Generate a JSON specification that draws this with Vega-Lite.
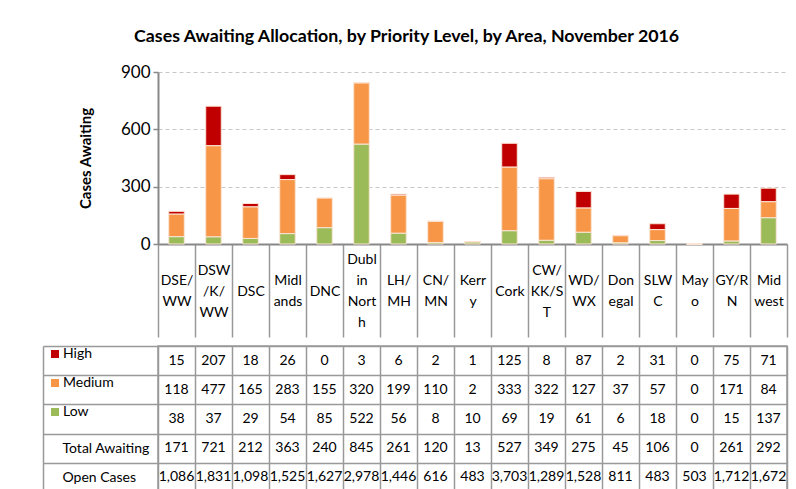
{
  "$schema": "https://vega.github.io/schema/vega-lite/v6.json",
  "padding": {"left": 41, "top": 28, "right": 5, "bottom": 2},
  "autosize": {"type": "pad"},
  "background": "white",
  "title": {"text": "Cases Awaiting Allocation, by Priority Level, by Area, November 2016", "font": "Lato", "fontSize": 17.8, "fontWeight": "bold", "anchor": "middle", "color": "#000", "offset": 17, "dx": -8},
  "config": {"view": {"stroke": null}, "font": "Lato", "axis": {"labelColor": "#000", "titleColor": "#000", "labelFont": "Lato", "titleFont": "Lato"}},
  "datasets": {
    "cells": [
      {"area": "DSE/WW", "row": "High", "value": 15}, {"area": "DSE/WW", "row": "Medium", "value": 118}, {"area": "DSE/WW", "row": "Low", "value": 38}, {"area": "DSE/WW", "row": "Total Awaiting", "value": 171}, {"area": "DSE/WW", "row": "Open Cases", "value": 1086},
      {"area": "DSW/K/WW", "row": "High", "value": 207}, {"area": "DSW/K/WW", "row": "Medium", "value": 477}, {"area": "DSW/K/WW", "row": "Low", "value": 37}, {"area": "DSW/K/WW", "row": "Total Awaiting", "value": 721}, {"area": "DSW/K/WW", "row": "Open Cases", "value": 1831},
      {"area": "DSC", "row": "High", "value": 18}, {"area": "DSC", "row": "Medium", "value": 165}, {"area": "DSC", "row": "Low", "value": 29}, {"area": "DSC", "row": "Total Awaiting", "value": 212}, {"area": "DSC", "row": "Open Cases", "value": 1098},
      {"area": "Midlands", "row": "High", "value": 26}, {"area": "Midlands", "row": "Medium", "value": 283}, {"area": "Midlands", "row": "Low", "value": 54}, {"area": "Midlands", "row": "Total Awaiting", "value": 363}, {"area": "Midlands", "row": "Open Cases", "value": 1525},
      {"area": "DNC", "row": "High", "value": 0}, {"area": "DNC", "row": "Medium", "value": 155}, {"area": "DNC", "row": "Low", "value": 85}, {"area": "DNC", "row": "Total Awaiting", "value": 240}, {"area": "DNC", "row": "Open Cases", "value": 1627},
      {"area": "Dublin North", "row": "High", "value": 3}, {"area": "Dublin North", "row": "Medium", "value": 320}, {"area": "Dublin North", "row": "Low", "value": 522}, {"area": "Dublin North", "row": "Total Awaiting", "value": 845}, {"area": "Dublin North", "row": "Open Cases", "value": 2978},
      {"area": "LH/MH", "row": "High", "value": 6}, {"area": "LH/MH", "row": "Medium", "value": 199}, {"area": "LH/MH", "row": "Low", "value": 56}, {"area": "LH/MH", "row": "Total Awaiting", "value": 261}, {"area": "LH/MH", "row": "Open Cases", "value": 1446},
      {"area": "CN/MN", "row": "High", "value": 2}, {"area": "CN/MN", "row": "Medium", "value": 110}, {"area": "CN/MN", "row": "Low", "value": 8}, {"area": "CN/MN", "row": "Total Awaiting", "value": 120}, {"area": "CN/MN", "row": "Open Cases", "value": 616},
      {"area": "Kerry", "row": "High", "value": 1}, {"area": "Kerry", "row": "Medium", "value": 2}, {"area": "Kerry", "row": "Low", "value": 10}, {"area": "Kerry", "row": "Total Awaiting", "value": 13}, {"area": "Kerry", "row": "Open Cases", "value": 483},
      {"area": "Cork", "row": "High", "value": 125}, {"area": "Cork", "row": "Medium", "value": 333}, {"area": "Cork", "row": "Low", "value": 69}, {"area": "Cork", "row": "Total Awaiting", "value": 527}, {"area": "Cork", "row": "Open Cases", "value": 3703},
      {"area": "CW/KK/ST", "row": "High", "value": 8}, {"area": "CW/KK/ST", "row": "Medium", "value": 322}, {"area": "CW/KK/ST", "row": "Low", "value": 19}, {"area": "CW/KK/ST", "row": "Total Awaiting", "value": 349}, {"area": "CW/KK/ST", "row": "Open Cases", "value": 1289},
      {"area": "WD/WX", "row": "High", "value": 87}, {"area": "WD/WX", "row": "Medium", "value": 127}, {"area": "WD/WX", "row": "Low", "value": 61}, {"area": "WD/WX", "row": "Total Awaiting", "value": 275}, {"area": "WD/WX", "row": "Open Cases", "value": 1528},
      {"area": "Donegal", "row": "High", "value": 2}, {"area": "Donegal", "row": "Medium", "value": 37}, {"area": "Donegal", "row": "Low", "value": 6}, {"area": "Donegal", "row": "Total Awaiting", "value": 45}, {"area": "Donegal", "row": "Open Cases", "value": 811},
      {"area": "SLWC", "row": "High", "value": 31}, {"area": "SLWC", "row": "Medium", "value": 57}, {"area": "SLWC", "row": "Low", "value": 18}, {"area": "SLWC", "row": "Total Awaiting", "value": 106}, {"area": "SLWC", "row": "Open Cases", "value": 483},
      {"area": "Mayo", "row": "High", "value": 0}, {"area": "Mayo", "row": "Medium", "value": 0}, {"area": "Mayo", "row": "Low", "value": 0}, {"area": "Mayo", "row": "Total Awaiting", "value": 0}, {"area": "Mayo", "row": "Open Cases", "value": 503},
      {"area": "GY/RN", "row": "High", "value": 75}, {"area": "GY/RN", "row": "Medium", "value": 171}, {"area": "GY/RN", "row": "Low", "value": 15}, {"area": "GY/RN", "row": "Total Awaiting", "value": 261}, {"area": "GY/RN", "row": "Open Cases", "value": 1712},
      {"area": "Midwest", "row": "High", "value": 71}, {"area": "Midwest", "row": "Medium", "value": 84}, {"area": "Midwest", "row": "Low", "value": 137}, {"area": "Midwest", "row": "Total Awaiting", "value": 292}, {"area": "Midwest", "row": "Open Cases", "value": 1672}
    ]
  },
  "data": {"name": "cells"},
  "spacing": 0,
  "resolve": {"scale": {"x": "shared", "y": "independent"}, "axis": {"x": "independent", "y": "independent"}},
  "vconcat": [
    {
      "width": 629,
      "height": 172,
      "transform": [
        {"filter": {"field": "row", "oneOf": ["High", "Medium", "Low"]}},
        {"calculate": "indexof(['Low','Medium','High'], datum.row)", "as": "stackOrder"}
      ],
      "mark": {"type": "bar", "width": {"band": 0.42}, "stroke": "#fbe4d5", "strokeWidth": 1},
      "encoding": {
        "x": {
          "field": "area", "type": "nominal", "sort": null,
          "scale": {"paddingInner": 0, "paddingOuter": 0},
          "axis": {
            "title": null, "tickBand": "extent", "tickSize": 93, "tickColor": "#999", "tickWidth": 1.5,
            "domainColor": "#888", "domainWidth": 2, "labelAngle": 0, "labelBaseline": "middle", "labelAlign": "center",
            "labelPadding": {"expr": "indexof(['DSC','DNC','Cork'], datum.value) >= 0 ? -46 : indexof(['DSW/K/WW','CW/KK/ST'], datum.value) >= 0 ? -67 : datum.value == 'Dublin North' ? -77.5 : -56.5"},
            "labelFontSize": 14, "labelLineHeight": 21, "labelLimit": 0,
            "labelExpr": "{'DSE/WW':['DSE/','WW'],'DSW/K/WW':['DSW','/K/','WW'],'DSC':['DSC'],'Midlands':['Midl','ands'],'DNC':['DNC'],'Dublin North':['Dubl','in','Nort','h'],'LH/MH':['LH/','MH'],'CN/MN':['CN/','MN'],'Kerry':['Kerr','y'],'Cork':['Cork'],'CW/KK/ST':['CW/','KK/S','T'],'WD/WX':['WD/','WX'],'Donegal':['Don','egal'],'SLWC':['SLW','C'],'Mayo':['May','o'],'GY/RN':['GY/R','N'],'Midwest':['Mid','west']}[datum.label]"
          }
        },
        "y": {
          "field": "value", "type": "quantitative", "stack": "zero",
          "scale": {"domain": [0, 900], "nice": false},
          "axis": {
            "values": [0, 300, 600, 900], "title": "Cases Awaiting", "titleFontSize": 15, "titleFontWeight": "bold",
            "titlePadding": 27, "labelFontSize": 17, "tickSize": 5, "labelPadding": 3, "tickColor": "#888", "tickWidth": 1.5,
            "grid": true, "gridDash": [4, 3], "gridColor": "#c8c8c8", "domainColor": "#888", "domainWidth": 2
          }
        },
        "color": {
          "field": "row", "type": "nominal",
          "scale": {"domain": ["High", "Medium", "Low"], "range": ["#C00000", "#F79646", "#9BBB59"]},
          "legend": {
            "title": null, "orient": "none", "legendX": -110, "legendY": 275, "symbolType": "square", "symbolSize": 64,
            "symbolStrokeWidth": 0, "labelFontSize": 14, "labelFont": "Lato", "labelColor": "#000", "rowPadding": 15, "labelOffset": 1
          }
        },
        "order": {"field": "stackOrder", "type": "quantitative"}
      }
    },
    {
      "width": 629,
      "height": 146,
      "view": {"stroke": "#999", "strokeWidth": 1.5},
      "mark": {"type": "text", "fontSize": 14, "font": "Lato", "color": "#000"},
      "encoding": {
        "x": {
          "field": "area", "type": "nominal", "sort": null,
          "axis": {"labels": false, "ticks": false, "domain": false, "title": null, "grid": true, "tickBand": "extent", "gridColor": "#999", "gridWidth": 1.5}
        },
        "y": {
          "field": "row", "type": "nominal", "sort": ["High", "Medium", "Low", "Total Awaiting", "Open Cases"],
          "scale": {"paddingInner": 0, "paddingOuter": 0},
          "axis": {
            "title": null, "offset": 115, "tickSize": -115, "tickBand": "extent", "tickColor": "#999", "tickWidth": 1.5,
            "domainColor": "#999", "domainWidth": 1.5, "grid": true, "gridColor": "#999", "gridWidth": 1.5,
            "labelAlign": "left", "labelPadding": 96, "labelFontSize": 14, "labelLimit": 0,
            "labelExpr": "indexof(['High','Medium','Low'], datum.value) >= 0 ? '' : datum.value"
          }
        },
        "text": {"field": "value", "type": "quantitative", "format": ","}
      }
    }
  ]
}
